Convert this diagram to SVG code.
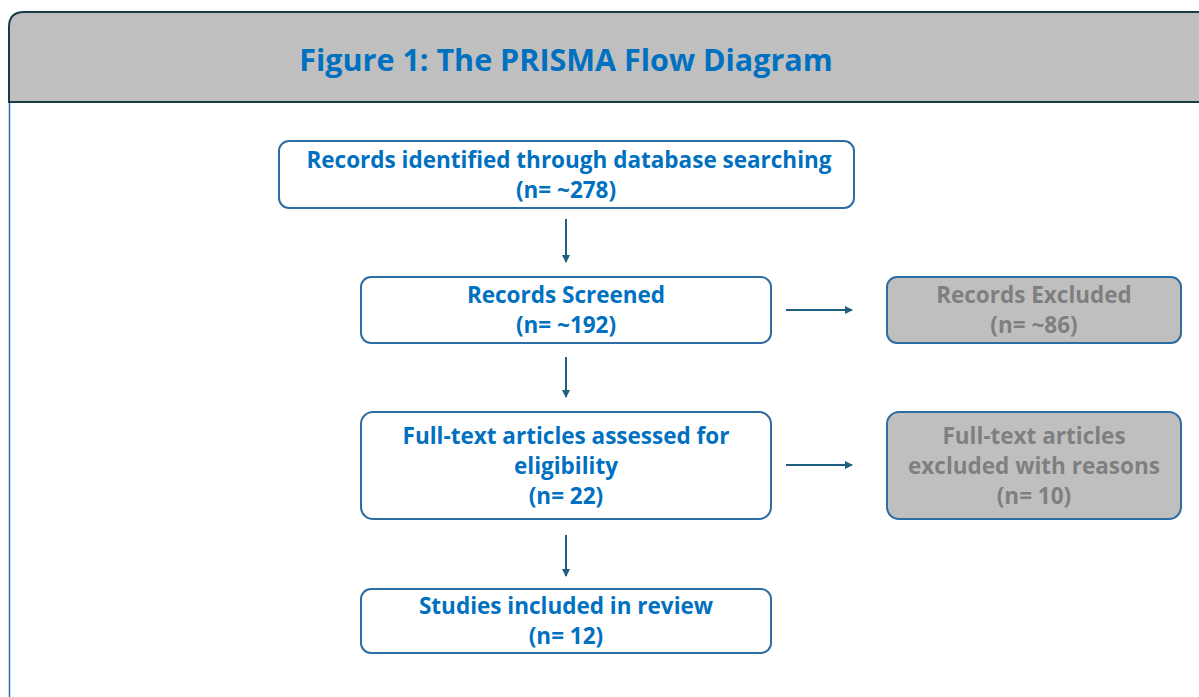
<svg xmlns="http://www.w3.org/2000/svg" width="1199" height="697" viewBox="0 0 1199 697">
<style>
.box{fill:#fff;stroke:#2e6da4;stroke-width:2}
.gbox{fill:#bfbfbf;stroke:#2e6da4;stroke-width:2}
.t{font-family:"Open Sans","Liberation Sans",sans-serif;font-weight:bold;font-size:22.5px;fill:#0070c0;text-anchor:middle}
.g{fill:#7f7f7f}
.c{stroke:#1f5f7f;stroke-width:2;fill:none;marker-end:url(#ah)}
</style>
<defs>
<marker id="ah" markerWidth="8" markerHeight="8" refX="7" refY="4" orient="auto" markerUnits="userSpaceOnUse"><path d="M0,0 L8,4 L0,8 Z" fill="#1f5f7f"/></marker>
</defs>
<rect width="1199" height="697" fill="#fff"/>
<g id="frame">
<line x1="9.5" y1="102" x2="9.5" y2="697" stroke="#2e6da4" stroke-width="1.5"/>
<path d="M9,102 L9,27 Q9,12 24,12 L1201,12 L1201,102 Z" fill="#bfbfbf" stroke="#1a3a4a" stroke-width="2"/>
<text x="566" y="71" class="t" style="font-size:30.5px">Figure 1: The PRISMA Flow Diagram</text>
</g>
<g id="n1"><rect x="279" y="141" width="575" height="67" rx="10" class="box"/>
<text x="569" y="168" class="t">Records identified through database searching</text>
<text x="566" y="198" class="t">(n= ~278)</text></g>
<g id="n2"><rect x="361" y="277" width="410" height="66" rx="10" class="box"/>
<text x="566" y="303" class="t">Records Screened</text>
<text x="566" y="333" class="t">(n= ~192)</text></g>
<g id="n3"><rect x="887" y="277" width="294" height="66" rx="10" class="gbox"/>
<text x="1034" y="303" class="t g">Records Excluded</text>
<text x="1034" y="333" class="t g">(n= ~86)</text></g>
<g id="n4"><rect x="361" y="412" width="410" height="107" rx="12" class="box"/>
<text x="566" y="444" class="t">Full-text articles assessed for</text>
<text x="566" y="474" class="t">eligibility</text>
<text x="566" y="504" class="t">(n= 22)</text></g>
<g id="n5"><rect x="887" y="412" width="294" height="107" rx="12" class="gbox"/>
<text x="1034" y="444" class="t g">Full-text articles</text>
<text x="1034" y="474" class="t g">excluded with reasons</text>
<text x="1034" y="504" class="t g">(n= 10)</text></g>
<g id="n6"><rect x="361" y="589" width="410" height="64" rx="10" class="box"/>
<text x="566" y="614" class="t">Studies included in review</text>
<text x="566" y="644" class="t">(n= 12)</text></g>
<g id="connectors">
<line x1="566" y1="219" x2="566" y2="262" class="c"/>
<line x1="566" y1="357" x2="566" y2="397" class="c"/>
<line x1="566" y1="535" x2="566" y2="576" class="c"/>
<line x1="786" y1="310" x2="852" y2="310" class="c"/>
<line x1="786" y1="465" x2="852" y2="465" class="c"/>
</g>
</svg>
